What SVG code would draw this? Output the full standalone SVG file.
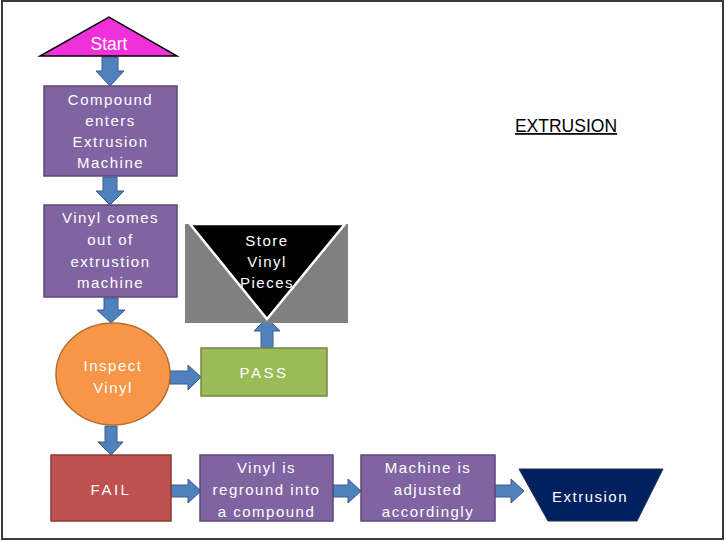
<svg xmlns="http://www.w3.org/2000/svg" width="726" height="541" viewBox="0 0 726 541">
<style>
.frame{fill:#fff;stroke:#3a3a3a;stroke-width:2}
.proc{fill:#8064A2;stroke:#5C4776;stroke-width:1.5}
.arr{fill:#4F81BD;stroke:#385D8A;stroke-width:1}
.t{font-family:"Liberation Sans",Arial,sans-serif;font-size:15px;fill:#fff;text-anchor:middle;letter-spacing:1.5px}
</style>
<rect class="frame" x="2" y="1" width="721" height="538"/>
<g id="connectors">
<path class="arr" d="M102,57 H118 V71 H124 L110,86 L96,71 H102 Z"/>
<path class="arr" d="M103,177 H117 V191 H124 L110,205 L96,191 H103 Z"/>
<path class="arr" d="M104,298 H118 V310 H125 L111,323 L97,310 H104 Z"/>
<path class="arr" d="M105,426 H117 V442 H123 L111,455 L98,442 H105 Z"/>
<path class="arr" d="M170,371 V384 H188 V390 L201,377 L188,365 V371 Z"/>
<path class="arr" d="M261,348 V331 H254 L267,318 L280,331 H273 V348 Z"/>
<path class="arr" d="M171,485 V497 H188 V503 L201,491 L188,479 V485 Z"/>
<path class="arr" d="M333,485 V497 H348 V503 L361,491 L348,479 V485 Z"/>
<path class="arr" d="M495,485 V497 H511 V503 L524,491 L511,479 V485 Z"/>
</g>
<g id="start">
<polygon points="40,56 177,56 109,17" fill="#F030D8" stroke="#000" stroke-width="1.5"/>
<text class="t" x="109" y="50" style="letter-spacing:0;font-size:17.5px">Start</text>
</g>
<g id="compound">
<rect class="proc" x="44" y="86" width="133" height="90"/>
<text class="t"><tspan x="110.5" y="105">Compound</tspan><tspan x="110.5" y="126">enters</tspan><tspan x="110.5" y="147">Extrusion</tspan><tspan x="110.5" y="168">Machine</tspan></text>
</g>
<g id="vinylout">
<rect class="proc" x="44" y="205" width="133" height="92"/>
<text class="t"><tspan x="110.5" y="223">Vinyl comes</tspan><tspan x="110.5" y="245">out of</tspan><tspan x="110.5" y="267">extrustion</tspan><tspan x="110.5" y="288">machine</tspan></text>
</g>
<g id="inspect">
<ellipse cx="113" cy="374" rx="57" ry="51" fill="#F79646" stroke="#B66D31" stroke-width="1.5"/>
<text class="t"><tspan x="113" y="371">Inspect</tspan><tspan x="113" y="393">Vinyl</tspan></text>
</g>
<g id="pass">
<rect x="201" y="348" width="126" height="48" fill="#9BBB59" stroke="#71893F" stroke-width="1.5"/>
<text class="t" x="264" y="378" style="letter-spacing:2.5px">PASS</text>
</g>
<g id="store">
<rect x="185" y="224" width="163" height="99" fill="#808080"/>
<polygon points="190,224 345,224 267,319" fill="#000" stroke="#fff" stroke-width="2.5"/>
<text class="t"><tspan x="267" y="246">Store</tspan><tspan x="267" y="267">Vinyl</tspan><tspan x="267" y="288">Pieces</tspan></text>
</g>
<g id="fail">
<rect x="51" y="455" width="120" height="66" fill="#C0504D" stroke="#8C3836" stroke-width="1.5"/>
<text class="t" x="111" y="495" style="letter-spacing:2.5px">FAIL</text>
</g>
<g id="reground">
<rect class="proc" x="200" y="455" width="133" height="66"/>
<text class="t"><tspan x="266.5" y="473">Vinyl is</tspan><tspan x="266.5" y="495">reground into</tspan><tspan x="266.5" y="517">a compound</tspan></text>
</g>
<g id="adjusted">
<rect class="proc" x="361" y="455" width="134" height="66"/>
<text class="t"><tspan x="428" y="473">Machine is</tspan><tspan x="428" y="495">adjusted</tspan><tspan x="428" y="517">accordingly</tspan></text>
</g>
<g id="extrusion">
<polygon points="519,469 663,469 637,521 548,521" fill="#002060" stroke="#1a2f5a" stroke-width="1"/>
<text class="t" x="590" y="502">Extrusion</text>
</g>
<g id="title">
<text x="566" y="132" font-family="'Liberation Sans',Arial,sans-serif" font-size="17.5" fill="#000" text-anchor="middle" text-decoration="underline">EXTRUSION</text>
</g>
</svg>
